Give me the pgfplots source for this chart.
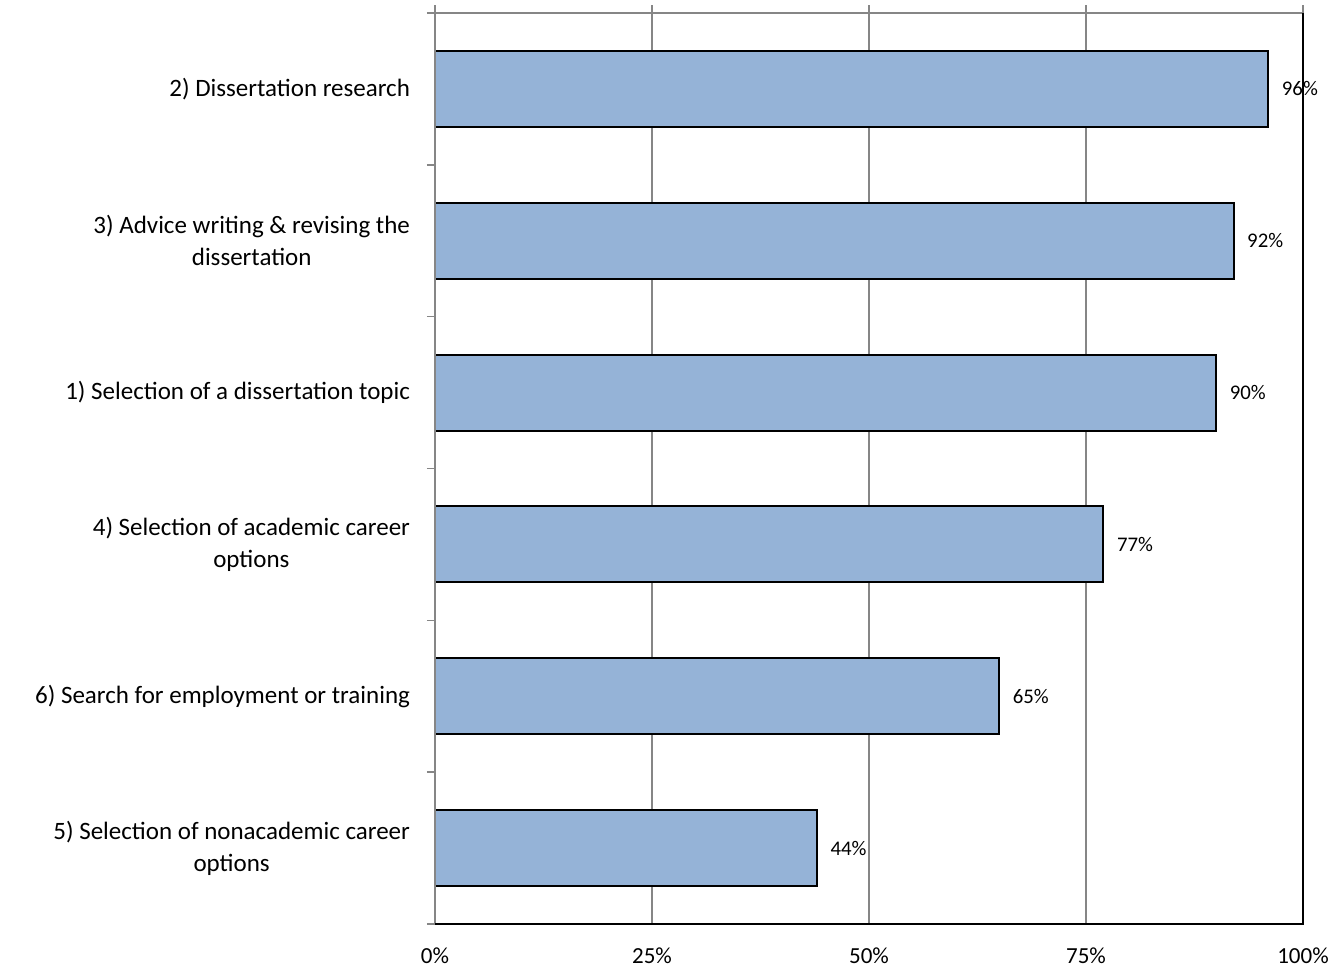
\documentclass[border=0pt]{standalone}
\usepackage{fontspec}
\setmainfont{Carlito}
\usepackage{pgfplots}
\pgfplotsset{compat=1.18}
\definecolor{barblue}{HTML}{95B3D7}
\definecolor{gridgray}{HTML}{868686}
\begin{document}
\begin{tikzpicture}
\begin{axis}[
  at={(0,0)}, anchor=south west,
  scale only axis, width=434pt, height=455.5pt,
  xbar, bar width=0.5,
  xmin=0, xmax=100, ymin=0.5, ymax=6.5,
  enlargelimits=false,
  axis line style={draw=none},
  /pgf/number format/assume math mode=true,
  xtick={0,25,50,75,100},
  xticklabels={0\%,25\%,50\%,75\%,100\%},
  xtick pos=right, xticklabel pos=left,
  xticklabel style={font=\fontsize{11.5}{13}\selectfont, yshift=-4.5pt},
  xmajorgrids, grid style={gridgray, line width=0.75pt},
  ytick={0.5,1.5,...,6.5},
  yticklabels={},
  ytick pos=left,
  tick align=outside,
  major tick length=4pt,
  tick style={gridgray, line width=0.75pt},
  extra y ticks={1,2,3,4,5,6},
  extra y tick labels={
    {5) Selection of nonacademic career\\options},
    {6) Search for employment or training},
    {4) Selection of academic career\\options},
    {1) Selection of a dissertation topic},
    {3) Advice writing \& revising the\\dissertation},
    {2) Dissertation research}},
  extra y tick style={grid=none, major tick length=0pt,
    yticklabel style={align=center, font=\fontsize{12.5}{16}\selectfont, xshift=-9pt}},
  point meta=x,
  nodes near coords={\pgfmathprintnumber{\pgfplotspointmeta}\%},
  nodes near coords align=horizontal,
  every node near coord/.append style={font=\fontsize{10.4}{12}\selectfont, black, xshift=3pt},
  clip=false,
]
\addplot[fill=barblue, draw=black, line width=1pt] coordinates {
  (44,1) (65,2) (77,3) (90,4) (92,5) (96,6)};
\draw[gridgray, line width=0.75pt] (rel axis cs:0,0) -- (rel axis cs:0,1) -- (rel axis cs:1,1);
\draw[black, line width=1pt] (rel axis cs:0,0) -- (rel axis cs:1,0) -- (rel axis cs:1,1);
\end{axis}
\pgfresetboundingbox
\path (-217.5pt,-22.5pt) rectangle (454.5pt,462pt);
\end{tikzpicture}
\end{document}
